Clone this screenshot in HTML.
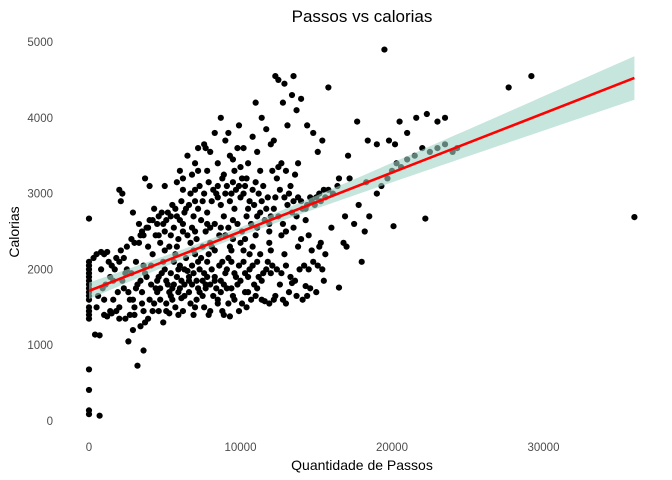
<!DOCTYPE html>
<html><head><meta charset="utf-8"><style>
html,body{margin:0;padding:0;background:#fff;}
svg{display:block;font-family:"Liberation Sans",sans-serif;}
</style></head><body>
<svg id="chart" width="672" height="480">
<text x="362" y="22" text-anchor="middle" font-size="17" fill="#000">Passos vs calorias</text>
<g id="yticks"></g>
<g id="xticks"></g>
<g id="points"></g>
<g id="fit"></g>
<text x="362" y="470" text-anchor="middle" font-size="14" fill="#000">Quantidade de Passos</text>
<text x="0" y="0" transform="translate(19,232) rotate(-90)" text-anchor="middle" font-size="14" fill="#000">Calorias</text>
</svg>
<script>
const xTicks=[0,10000,20000,30000];
const yTicks=[0,1000,2000,3000,4000,5000];
const observations=[
[0,1350],[0,1400],[0,1450],[0,1500],[0,1600],[0,1650],[0,1700],[0,1750],[0,1800],[0,1850],[0,1900],[0,1950],[0,2000],[0,2050],[0,2100],[0,2670],[0,680],[0,410],[0,140],[0,90],[700,70],
[300,2150],[500,2200],[800,2230],[1000,2200],[1200,2230],[400,1140],[700,1130],[1000,1400],[1200,1380],[1500,1420],[1800,1450],[2000,1500],[600,1650],[900,1750],[1100,1800],[1400,1900],[1700,2000],[2000,2100],[2300,2150],[2500,2000],[2800,1950],[1600,1600],[1900,1700],[2200,1850],[2600,1700],[2900,1600],[2400,1350],[2700,1400],[3000,1500],[2500,2300],[2800,2400],[3000,2350],[1500,2050],[1800,2150],[2100,2250],[2600,1050],[2900,1200],[3200,730],[3600,930],[3400,1250],[3700,1300],[2100,2900],[2000,3050],[2900,2750],[3300,2600],[3500,2500],[3800,2550],[3300,2350],[3600,2450],[3900,2300],[3200,1800],[3500,1700],[3800,1900],[4000,1600],[4200,1450],[3900,1350],[4300,1550],[4500,1700],
[4500,1850],[4800,1950],[5000,2000],[5200,1800],[5500,1750],[5800,1900],[6000,2050],[6300,1800],[6600,1700],[6900,1950],[7200,2100],[7500,1850],[7800,1900],[8100,2000],[8400,1750],[8700,1850],[9000,1950],[4700,1600],[5100,1550],[5400,1650],[5700,1500],[6200,1450],[6700,1550],[7100,1600],[7600,1500],[8000,1450],[8500,1600],[8900,1400],[9300,1380],[4900,1300],[5300,1420],[6100,1620],[6500,1980],[7000,2200],[7400,2150],[7900,2200],[8300,2250],[8800,2100],[9200,2150],[5600,2100],[6400,2150],[5900,1700],[6800,1800],[7300,1700],[7700,1750],[8200,1650],[9400,1750],[9700,1900],[10000,1850],[10300,1950],[10600,2000],[10900,1800],[11200,1900],[11500,1950],[11800,2100],[12100,2050],[12400,2000],[12700,1950],[13000,2050],[13300,1900],[13600,1850],[13900,2000],[14200,2050],[14500,2000],[14800,2100],[15100,2050],[15400,2000],[9600,1600],[10100,1550],[10500,1700],[11000,1650],[11400,1600],[11900,1550],[12300,1650],[12800,1600],[13200,1700],[13700,1650],[14100,1600],[14600,1750],[15000,1700],[9900,1450],[10400,1500],[11600,1580],[12600,1800],[13400,1820],[14300,1780],[15500,1850],[11300,2200],[12000,2250],[12900,2200],[13800,2300],[14700,2250],[15300,2350],[10800,2300],[10200,2250],
[4000,2650],[4300,2800],[4600,2700],[4900,2600],[5200,2750],[5500,2850],[5800,2700],[6100,2900],[6400,2800],[6700,3000],[7000,2900],[7300,3100],[7600,3000],[7900,3150],[8200,3050],[8500,2950],[8800,3200],[9100,3100],[9400,3000],[9700,3050],[10000,2950],[10300,3100],[10600,2900],[10900,2850],[11200,3000],[11500,3100],[11800,2950],[12100,3300],[12400,3200],[12700,3400],[13000,3300],[13300,3100],[13600,3250],[4400,2450],[4700,2350],[5000,2500],[5300,2300],[5600,2550],[5900,2400],[6200,2600],[6500,2450],[6800,2550],[7100,2400],[7400,2650],[7700,2500],[8000,2350],[8300,2600],[8600,2450],[8900,2700],[9200,2550],[9500,2400],[9800,2600],[10100,2500],[10400,2700],[10700,2600],[11000,2450],[11300,2750],[11600,2650],[11900,2500],[12200,2800],[12500,2700],[12800,2600],[13100,2850],[13400,2750],[13700,2700],[14000,2900],[14300,2800],[14600,2950],[14900,2850],[15200,3000],[15500,3050],[15800,3050],[16100,3000],[16400,3100],[14000,2400],[14500,2450],[15200,2300],[15600,2200],[16800,2350],[17000,2300],[17500,2600],[18000,2100],[16500,1760],[18200,2500],[18500,2700],[19000,3000],[19300,3100],[19700,3200],[20000,3300],[20300,3400],[20600,3350],[21000,3450],[21500,3500],[22000,3600],[22500,3550],[23000,3600],[23500,3650],[20100,2570],[22200,2670],[17800,2850],[18300,3150],[17200,3200],[16900,2700],[16000,2550],
[6000,3300],[6500,3500],[7000,3400],[7200,3600],[7600,3650],[8000,3550],[8300,3800],[8700,4000],[9000,3700],[9300,3500],[9600,3300],[9900,3900],[10200,3600],[10500,3400],[10800,3750],[11100,3550],[11400,4000],[11700,3850],[12000,3650],[12300,4550],[12500,4500],[12800,4200],[13100,3900],[13400,4300],[13700,4100],[14000,4250],[14400,3900],[14800,3800],[15100,3550],[15400,3700],[15800,4400],[13500,4550],[12900,4450],[16500,3200],[17100,3500],[17700,3950],[18400,3700],[19000,3650],[19500,4900],[19800,3700],[20200,3650],[21000,3800],[21600,4000],[22300,4050],[23000,3950],[23500,4000],[20500,3950],[24300,3600],[24000,3550],[27700,4400],[29200,4550],[36000,2690],[5800,3150],[5000,3100],[6200,3200],[7800,3300],[8900,3250],[9500,3450],[10100,3200],[11300,3300],[6800,3250],[9800,3600],[11000,4200],[12200,3700],[4000,3100],[3700,3200],[2200,3000],
[3100,1750],[3400,1850],[3700,1950],[4100,2050],[4400,1750],[4600,1900],[4900,2100],[5100,1850],[5400,1950],[5600,1800],[5900,2000],[6100,1850],[6300,2000],[6600,1900],[6800,2050],[7100,1850],[7300,2000],[7600,1950],[7800,2100],[8000,1800],[8300,1900],[8600,2050],[8900,1800],[9100,2000],[9400,2100],[9600,1950],[9900,2050],[10200,2100],[10500,1900],[10800,2050],[11100,2100],[11400,1850],[11700,2000],[12000,1950],[3600,2050],[4200,2200],[5000,2250],[5700,2200],[6900,2250],[8100,2300],[9300,2300],[10600,2200],[11900,2350],[4100,1800],[4700,1750],[5300,1700],[6000,1750],[6600,1850],[7200,1750],[7700,1800],[8300,1850],[8700,1700],[9100,1750],[9800,1800],[10300,1700],[11100,1750],[5500,1600],[6300,1650],[7000,1500],[7500,1650],[8500,1550],[9500,1650],[10700,1600],[12200,1600],[13000,1550],[14400,1650],[3500,1550],[2700,1600],[2300,1750],[1300,2100],[800,2000],[1600,1850],[2400,1950],[3100,2100],[1000,1600],[500,1500],[1400,1450],[2000,1350],[3000,1400],[3600,1450],[4600,1450],[5100,1450],[5900,1400],[6900,1400],[7900,1400],[8800,1450],[9200,1550],
[3400,2450],[3900,2550],[4200,2650],[4500,2600],[4800,2750],[5100,2650],[5400,2700],[5700,2800],[6000,2650],[6300,2750],[6600,2850],[6900,2700],[7200,2800],[7500,2900],[7800,2750],[8100,2900],[8400,3000],[8700,2850],[9000,3000],[9300,2900],[9600,2800],[9900,3100],[10200,3000],[10500,2800],[10800,3050],[11100,2700],[11400,2900],[11700,2800],[12000,2700],[12300,2950],[12600,3050],[12900,2950],[13200,3000],[13500,2900],[13800,2950],[14100,2800],[14400,2850],[14700,2900],[15000,2950],[15300,2900],[15600,2950],[4600,2450],[5400,2450],[6200,2500],[7000,2500],[7800,2600],[8700,2550],[9500,2650],[10300,2400],[11100,2550],[11900,2600],[12700,2450],[13500,2550],[8000,2550],[9000,2450],[10000,2350],[6700,2350],[5800,2300],[7500,2300],[9400,2250],[8500,3100],[7000,3050],[6200,3050],[9500,3150],[10400,3200],[11000,3150],[12500,3350],[13800,3400],[13000,2500],[14300,2650],[7200,3300],[8500,3400],[10000,3350],[9200,3800],[7700,3600]
];
const NS="http://www.w3.org/2000/svg";
const X=v=>89+v*0.01515;
const Y=v=>421-v*0.0758;
function mk(tag,attrs,parent){const e=document.createElementNS(NS,tag);for(const k in attrs)e.setAttribute(k,attrs[k]);parent.appendChild(e);return e;}
const gy=document.getElementById('yticks');
yTicks.forEach(t=>{const e=mk('text',{x:53,y:Y(t)+4,'text-anchor':'end','font-size':11.5,fill:'#4d4d4d'},gy);e.textContent=t;

});
const gx=document.getElementById('xticks');
xTicks.forEach(t=>{const e=mk('text',{x:X(t),y:451,'text-anchor':'middle','font-size':11.5,fill:'#4d4d4d'},gx);e.textContent=t;

});
const gp=document.getElementById('points');
observations.forEach(p=>{const c=mk('circle',{cx:X(p[0]),cy:Y(p[1]),r:3.1,fill:'#000'},gp);

});
// linear regression
const n=observations.length;
let mx=0,my=0;observations.forEach(p=>{mx+=p[0];my+=p[1];});mx/=n;my/=n;
let sxx=0,sxy=0;observations.forEach(p=>{sxx+=(p[0]-mx)**2;sxy+=(p[0]-mx)*(p[1]-my);});
const b=sxy/sxx,a=my-b*mx;
let sse=0;observations.forEach(p=>{sse+=(p[1]-a-b*p[0])**2;});
const s=Math.sqrt(sse/(n-2));
const xs=observations.map(p=>p[0]);const xmin=Math.min(...xs),xmax=Math.max(...xs);
const up=[],lo=[];
for(let i=0;i<=80;i++){const x=xmin+(xmax-xmin)*i/80;const f=a+b*x;const se=1.96*s*Math.sqrt(1/n+(x-mx)**2/sxx);
up.push(X(x)+','+Y(f+se));lo.unshift(X(x)+','+Y(f-se));}
const gf=document.getElementById('fit');
const band=mk('polygon',{points:up.concat(lo).join(' '),fill:'#9fd3c7','fill-opacity':0.6},gf);


const ln=mk('line',{x1:X(xmin),y1:Y(a+b*xmin),x2:X(xmax),y2:Y(a+b*xmax),stroke:'#ff0000','stroke-width':2.6},gf);


</script>
</body></html>
